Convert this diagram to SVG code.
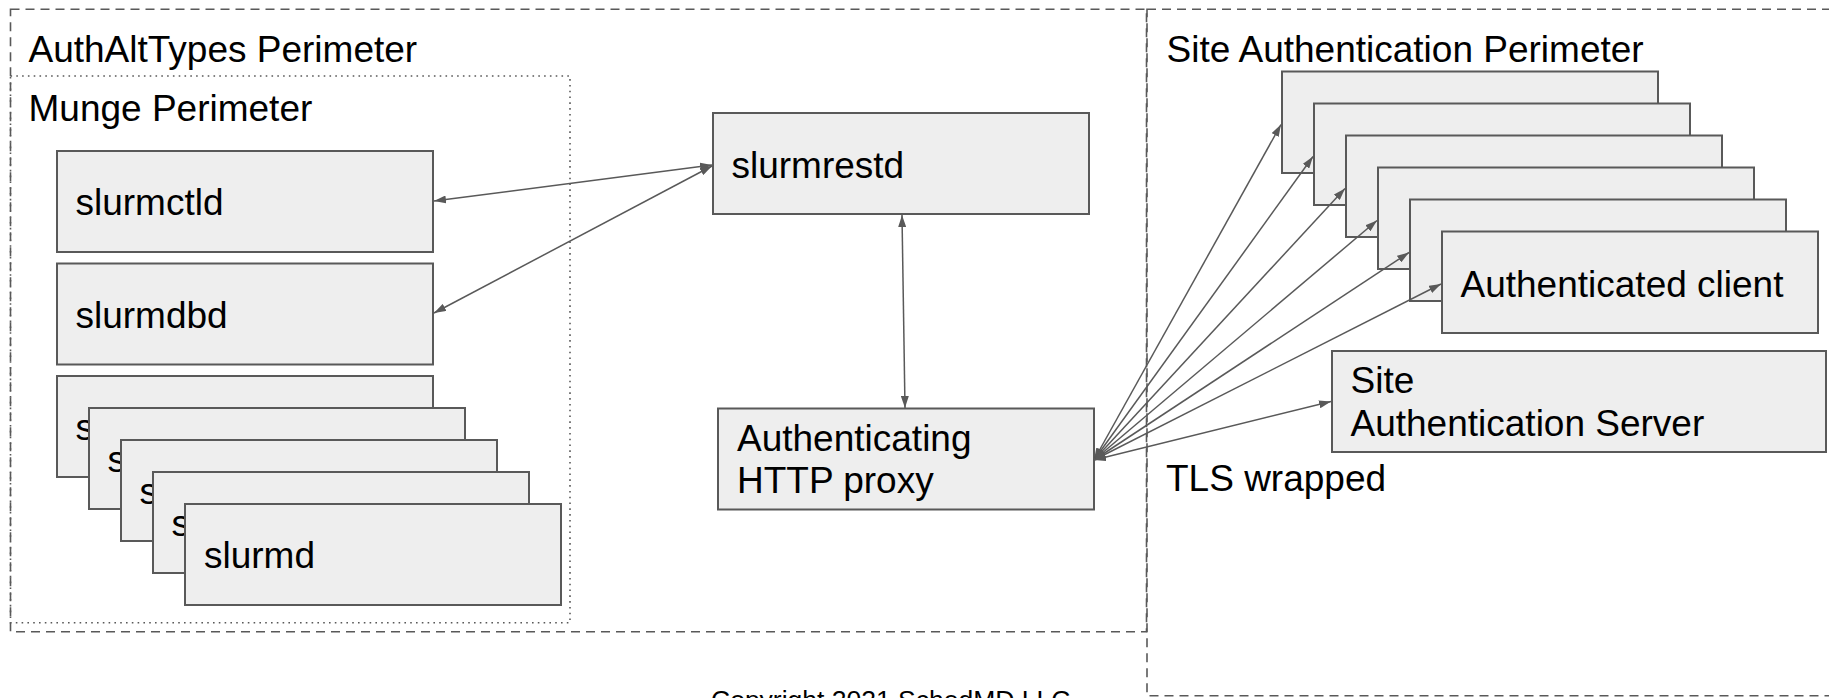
<svg xmlns="http://www.w3.org/2000/svg" width="1829" height="698" viewBox="0 0 1829 698">
<style>
.box{fill:#eeeeee;stroke:#595959;stroke-width:2}
.t{font-family:"Liberation Sans",Arial,sans-serif;font-size:37px;fill:#000}
.dash{fill:none;stroke:#595959;stroke-width:1.6;stroke-dasharray:9,6}
.dot{fill:none;stroke:#595959;stroke-width:1.6;stroke-dasharray:1.6,4.2}
.c{fill:none;stroke:#595959;stroke-width:1.5;marker-start:url(#ah);marker-end:url(#ah)}
</style>
<defs>
<marker id="ah" viewBox="0 0 12 8" refX="12" refY="4" markerWidth="12" markerHeight="8" markerUnits="userSpaceOnUse" orient="auto-start-reverse">
<path d="M0,0 L12,4 L0,8 z" fill="#595959"/>
</marker>
</defs>
<rect width="1829" height="698" fill="#ffffff"/>

<g id="authalt-perimeter">
<rect class="dash" x="10.5" y="9.3" width="1136" height="622.5"/>
<text class="t" x="28.5" y="62.3">AuthAltTypes Perimeter</text>
</g>
<g id="site-perimeter">
<rect class="dash" x="1147" y="9.3" width="720" height="686.5"/>
<text class="t" x="1166.5" y="61.7">Site Authentication Perimeter</text>
</g>
<g id="munge-perimeter">
<rect class="dot" x="10.5" y="76" width="559.5" height="546.7"/>
<text class="t" x="28.5" y="120.7">Munge Perimeter</text>
</g>

<g id="slurmctld"><rect class="box" x="57" y="151" width="376" height="101"/><text class="t" x="75.5" y="215">slurmctld</text></g>
<g id="slurmdbd"><rect class="box" x="57" y="263.5" width="376" height="101"/><text class="t" x="75.5" y="328">slurmdbd</text></g>
<g id="slurmd-1"><rect class="box" x="57" y="376" width="376" height="101"/><text class="t" x="75.5" y="440">s</text></g>
<g id="slurmd-2"><rect class="box" x="89" y="408" width="376" height="101"/><text class="t" x="107.5" y="472">s</text></g>
<g id="slurmd-3"><rect class="box" x="121" y="440" width="376" height="101"/><text class="t" x="139.5" y="504">s</text></g>
<g id="slurmd-4"><rect class="box" x="153" y="472" width="376" height="101"/><text class="t" x="171.5" y="536">s</text></g>
<g id="slurmd-5"><rect class="box" x="185" y="504" width="376" height="101"/><text class="t" x="204" y="568">slurmd</text></g>

<g id="slurmrestd"><rect class="box" x="713" y="113" width="376" height="101"/><text class="t" x="731.5" y="177.5">slurmrestd</text></g>
<g id="proxy"><rect class="box" x="718" y="408.5" width="376" height="101"/><text class="t" x="737" y="450.7">Authenticating</text><text class="t" x="737" y="492.7">HTTP proxy</text></g>

<g id="client-1"><rect class="box" x="1282" y="71.5" width="376" height="101.5"/></g>
<g id="client-2"><rect class="box" x="1314" y="103.5" width="376" height="101.5"/></g>
<g id="client-3"><rect class="box" x="1346" y="135.5" width="376" height="101.5"/></g>
<g id="client-4"><rect class="box" x="1378" y="167.5" width="376" height="101.5"/></g>
<g id="client-5"><rect class="box" x="1410" y="199.5" width="376" height="101.5"/></g>
<g id="client-6"><rect class="box" x="1442" y="231.5" width="376" height="101.5"/><text class="t" x="1460.5" y="296.7">Authenticated client</text></g>

<g id="auth-server"><rect class="box" x="1332" y="351" width="494" height="101"/><text class="t" x="1350.5" y="392.7">Site</text><text class="t" x="1350.5" y="436">Authentication Server</text></g>

<g id="tls-label"><text class="t" x="1166" y="491">TLS wrapped</text></g>
<g id="copyright"><text x="711" y="709" font-family="'Liberation Sans',Arial,sans-serif" font-size="26.5" fill="#000">Copyright 2021 SchedMD LLC</text></g>

<g id="connectors">
<line class="c" x1="434" y1="201" x2="712" y2="165"/>
<line class="c" x1="434" y1="313" x2="712" y2="166"/>
<line class="c" x1="902" y1="215" x2="905" y2="408"/>
<line class="c" x1="1094" y1="460" x2="1281" y2="124.5"/>
<line class="c" x1="1094" y1="460" x2="1313" y2="156.5"/>
<line class="c" x1="1094" y1="460" x2="1345" y2="188.5"/>
<line class="c" x1="1094" y1="460" x2="1377" y2="220.5"/>
<line class="c" x1="1094" y1="460" x2="1409" y2="252.5"/>
<line class="c" x1="1094" y1="460" x2="1441" y2="284"/>
<line class="c" x1="1094" y1="460" x2="1331" y2="401.5"/>
</g>
</svg>
